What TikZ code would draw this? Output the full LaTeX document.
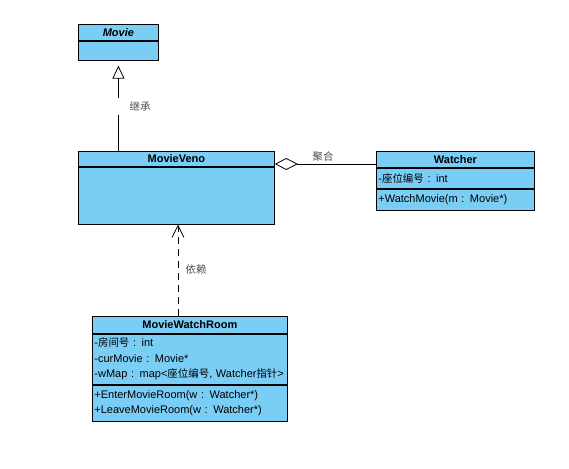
\documentclass[tikz,border=0pt]{standalone}
\usepackage{fontspec}
\setmainfont{Liberation Sans}
\newfontfamily\cjk{Noto Sans CJK SC}[Scale=0.95]
\newcommand{\zh}[1]{{\cjk #1}}
\usepackage{xcolor}
\usetikzlibrary{arrows.meta,positioning}
\definecolor{umlBlue}{RGB}{122,206,245}
\tikzset{
    umlHead/.style={
        draw,
        fill=umlBlue,
        align=center,
        inner xsep=2pt,
        inner ysep=0pt,
        font=\fontsize{11}{15.5}\selectfont\bfseries
    },
    umlBody/.style={
        draw,
        fill=umlBlue,
        align=left,
        inner xsep=2pt,
        inner ysep=0pt,
        font=\fontsize{11}{15.5}\selectfont
    },
    umlLabel/.style={
        text=black!70,
        inner sep=1pt,
        font=\fontsize{11}{13}\selectfont
    },
    umlInherit/.style={
        -{Triangle[open,length=13pt,width=12pt]},
        shorten >=5pt
    },
    umlAggr/.style={
        -{Diamond[open,length=23pt,width=12pt]}
    },
    umlDepend/.style={
        -{Straight Barb[length=12pt,width=12pt]},
        dash pattern=on 7pt off 5pt
    }
}
\begin{document}
\begin{tikzpicture}[x=1pt,y=-1pt,line width=0.8pt]
    \useasboundingbox[fill=white] (0,0) rectangle (569,468);

    % Movie
    \node[umlHead,text width=76pt,minimum height=16pt,anchor=north west] (movieHead) at (78,24) {\textit{Movie}};
    \node[umlBody,text width=76pt,minimum height=19pt,below=0pt of movieHead] (movieBody) {};

    % MovieVeno
    \node[umlHead,text width=192pt,minimum height=15pt,anchor=north west] (venoHead) at (78,151) {MovieVeno};
    \node[umlBody,text width=192pt,minimum height=57pt,below=0pt of venoHead] (venoBody) {};

    % Watcher
    \node[umlHead,text width=154pt,minimum height=16pt,anchor=north west] (watcherHead) at (376,151) {Watcher};
    \node[umlBody,text width=154pt,minimum height=20pt,below=0pt of watcherHead] (watcherAttr) {-\zh{座位编号} : int};
    \node[umlBody,text width=154pt,minimum height=21pt,below=0pt of watcherAttr] (watcherOps) {+WatchMovie(m : Movie*)};

    % MovieWatchRoom
    \node[umlHead,text width=191pt,minimum height=17pt,anchor=north west] (roomHead) at (92,316) {MovieWatchRoom};
    \node[umlBody,text width=191pt,minimum height=50pt,below=0pt of roomHead] (roomAttr) {-\zh{房间号} : int\\-curMovie : Movie*\\-wMap : map<\zh{座位编号}, Watcher\zh{指针}>};
    \node[umlBody,text width=191pt,minimum height=36pt,below=0pt of roomAttr] (roomOps) {+EnterMovieRoom(w : Watcher*)\\+LeaveMovieRoom(w : Watcher*)};

    \coordinate (aggrY) at (0,164);
    \coordinate (dependX) at (178,0);

    % relations
    \draw[umlInherit] (venoHead.north -| movieBody.south) -- (movieBody.south);
    \node[umlLabel,fill=white,text width=34pt,align=right,minimum height=17pt,anchor=east] (inheritLabel) at (152,106.5) {\zh{继承}};

    \draw[umlAggr] (watcherHead.west |- aggrY) -- (venoHead.east |- aggrY);
    \node[umlLabel] (aggrLabel) at (323,157) {\zh{聚合}};

    \draw[umlDepend] (roomHead.north -| dependX) -- (venoBody.south -| dependX);
    \node[umlLabel] (dependLabel) at (196,270) {\zh{依赖}};
\end{tikzpicture}
\end{document}
